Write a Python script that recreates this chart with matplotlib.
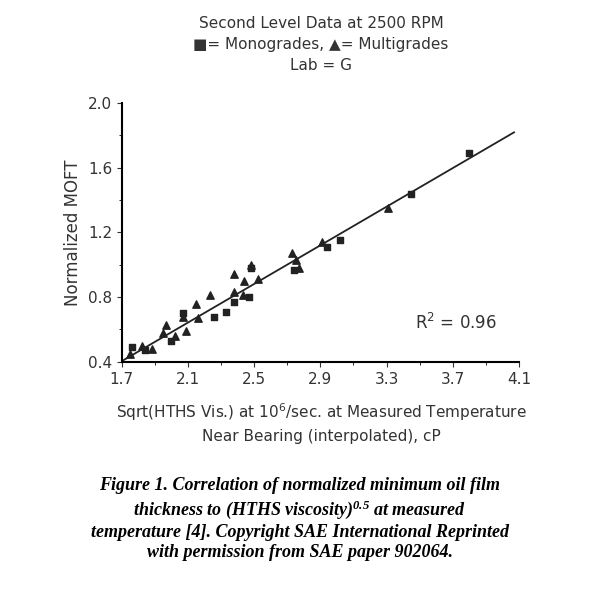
import matplotlib.pyplot as plt
import numpy as np

mono_x = [1.76, 1.84, 2.00, 2.07, 2.26, 2.33, 2.38, 2.47, 2.48, 2.74, 2.94, 3.02, 3.45, 3.80]
mono_y = [0.49, 0.47, 0.53, 0.70, 0.68, 0.71, 0.77, 0.80, 0.98, 0.97, 1.11, 1.15, 1.44, 1.69]
multi_x = [1.75, 1.82, 1.88, 1.97, 2.02, 1.95, 2.09, 2.07, 2.15, 2.16, 2.23, 2.38, 2.38, 2.44,
           2.43, 2.48, 2.52, 2.73, 2.77, 2.75, 2.91, 3.31]
multi_y = [0.45, 0.50, 0.48, 0.63, 0.56, 0.58, 0.59, 0.68, 0.76, 0.67, 0.81, 0.94, 0.83, 0.90,
           0.81, 1.00, 0.91, 1.07, 0.98, 1.03, 1.14, 1.35]
fit_slope, fit_icpt = 0.597, -0.611

plt.rcParams["mathtext.default"] = "regular"

fig = plt.figure(figsize=(6, 5.99), dpi=100)
ax = fig.add_axes([0.203, 0.396, 0.662, 0.432])
ax.scatter(mono_x, mono_y, marker="s", s=22, color="#222222")
ax.scatter(multi_x, multi_y, marker="^", s=28, color="#222222")
lx = np.array([1.7, 4.07])
ax.plot(lx, fit_slope * lx + fit_icpt, color="#222222", lw=1.3)
ax.set_xlim(1.7, 4.1)
ax.set_ylim(0.4, 2.0)
ax.set_xticks(np.arange(1.7, 4.11, 0.4))
ax.set_xticks(np.arange(1.7, 4.11, 0.2), minor=True)
ax.set_yticks(np.arange(0.4, 2.01, 0.4))
ax.set_yticks(np.arange(0.4, 2.01, 0.2), minor=True)
ax.spines[["top", "right"]].set_visible(False)
ax.spines[["left", "bottom"]].set_linewidth(1.5)
ax.tick_params(labelsize=11, colors="#333333")
ax.set_ylabel("Normalized MOFT", fontsize=12, color="#333333")
ax.text(3.72, 0.6, "R$^2$ = 0.96", fontsize=12, ha="center", color="#333333")
fig.text(0.535, 0.925, "Second Level Data at 2500 RPM\n■= Monogrades, ▲= Multigrades\nLab = G",
         ha="center", va="center", fontsize=11, color="#333333", linespacing=1.5)
fig.text(0.535, 0.295, "Sqrt(HTHS Vis.) at 10$^6$/sec. at Measured Temperature\nNear Bearing (interpolated), cP",
         ha="center", va="center", fontsize=11, color="#333333", linespacing=1.5)
fig.text(0.5, 0.133, "Figure 1. Correlation of normalized minimum oil film\n"
         "thickness to (HTHS viscosity)$^{0.5}$ at measured\n"
         "temperature [4]. Copyright SAE International Reprinted\n"
         "with permission from SAE paper 902064.",
         ha="center", va="center", fontsize=13, family="Liberation Serif",
         weight="bold", style="italic", linespacing=1.25)
fig.savefig("out.png")
